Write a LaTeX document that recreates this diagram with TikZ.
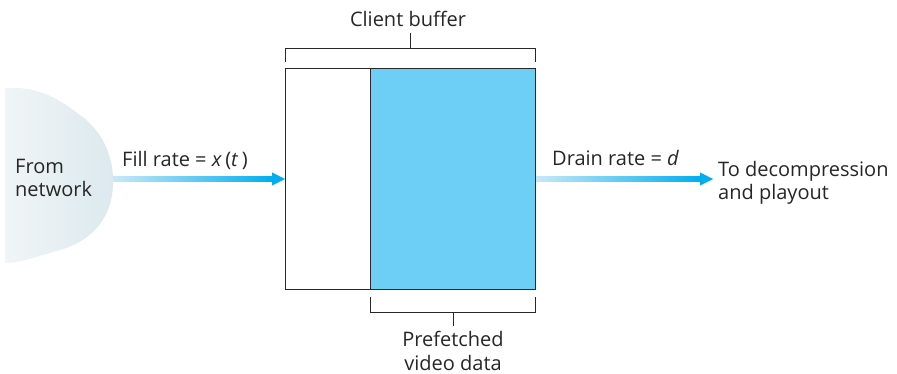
\documentclass[tikz,border=0pt]{standalone}
\usepackage{fontspec}
\setmainfont{Open Sans}
\usetikzlibrary{fit}
\definecolor{fillblue}{RGB}{110,207,246}
\definecolor{arrowblue}{RGB}{0,174,239}
\definecolor{paleblue}{RGB}{200,232,248}
\definecolor{cloudA}{RGB}{240,245,247}
\definecolor{cloudB}{RGB}{220,233,238}
\definecolor{linegray}{RGB}{40,40,40}
\begin{document}
\begin{tikzpicture}[x=1pt,y=-1pt,
  lbl/.style={font=\fontsize{20}{23.5}\selectfont, text=black!85, inner sep=0pt, align=left},
  brk/.style={draw=linegray, line width=0.8pt},
  shaft/.style={left color=paleblue, right color=arrowblue, draw=none},
  head/.style={fill=arrowblue, draw=none}]
\useasboundingbox (0,0) rectangle (897,374);
% cloud
\path[left color=cloudA, right color=cloudB] (5,88) .. controls (40,86) and (60,100) .. (80,115)
  .. controls (105,133) and (114,160) .. (113,185)
  .. controls (112,215) and (95,240) .. (60,250)
  .. controls (35,257) and (20,263) .. (5,263) -- cycle;
\node[lbl, anchor=base west] (net) at (15,197) {From\\network};
% buffer
\coordinate (bTL) at (285,69);
\coordinate (bBR) at (535,289);
\fill[fillblue] (370,69) rectangle (bBR);
\draw[linegray, line width=1pt] (bTL) rectangle (bBR);
\draw[linegray, line width=1pt] (370,69) -- (370,289);
\node[inner sep=0pt, fit=(bTL)(bBR)] (buf) {};
% top bracket
\draw[brk] (285,62) -- (285,48) -- (535,48) -- (535,62);
\draw[brk] (410,48) -- (410,33);
\node[lbl, anchor=base] (cb) at (408,27) {Client buffer};
% bottom bracket
\draw[brk] (370,297) -- (370,312) -- (535,312) -- (535,297);
\draw[brk] (453,312) -- (453,326);
\node[lbl, anchor=base, align=center] (pf) at (453,370) {Prefetched\\video data};
% fill arrow
\path[shaft] (113,176.5) rectangle (272,181.5);
\path[head] (272,172.5) -- (285,179) -- (272,185.5) -- cycle;
\node[lbl, anchor=base west] (fr) at (122,167) {Fill rate = \textit{x}\,(\textit{t}\,)};
% drain arrow
\path[shaft] (536,176.5) rectangle (700,181.5);
\path[head] (700,172.5) -- (713,179) -- (700,185.5) -- cycle;
\node[lbl, anchor=base west] (dr) at (552,166) {Drain rate = \textit{d}};
\node[lbl, anchor=base west] (out) at (718,200) {To decompression\\and playout};
\end{tikzpicture}
\end{document}
